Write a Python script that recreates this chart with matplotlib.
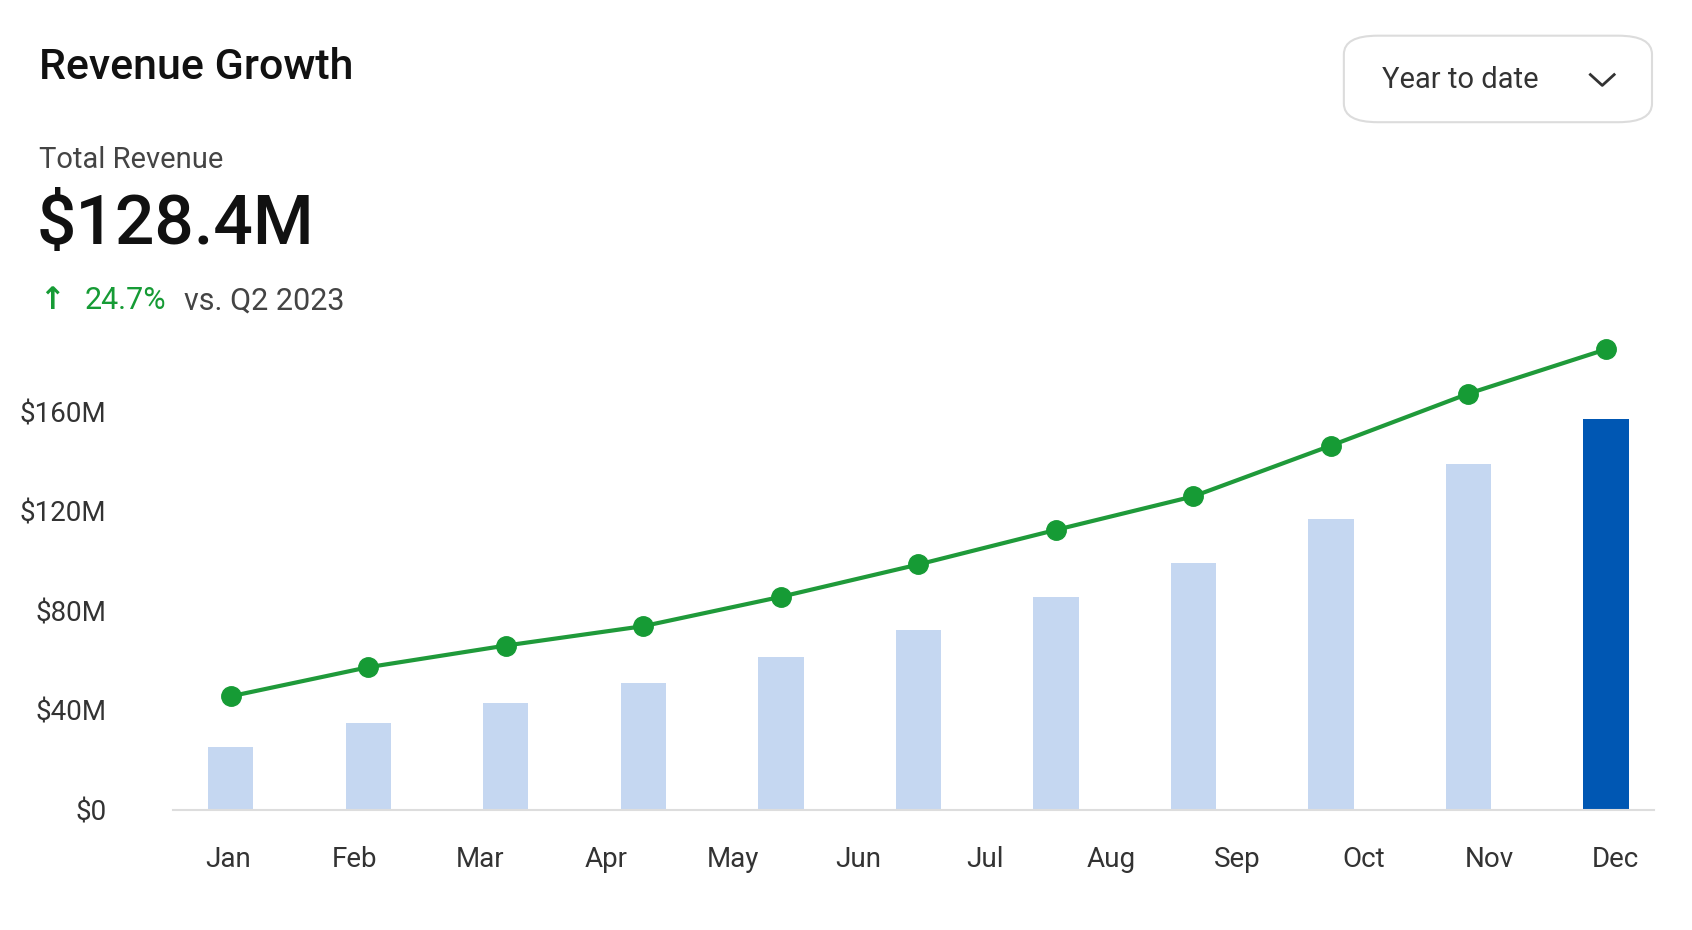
import numpy as np
import matplotlib.pyplot as plt
from matplotlib.patches import FancyBboxPatch

# data (millions)
months = ["Jan", "Feb", "Mar", "Apr", "May", "Jun", "Jul", "Aug", "Sep", "Oct", "Nov", "Dec"]
bar_values = [25.2, 34.8, 43.0, 50.9, 61.3, 72.2, 85.7, 99.1, 117.0, 139.0, 157.0]
line_values = [45.7, 57.4, 66.1, 73.9, 85.7, 98.7, 112.6, 126.1, 146.5, 167.4, 185.2]
y_ticks = [0, 40, 80, 120, 160]
y_labels = ["$0", "$40M", "$80M", "$120M", "$160M"]

plt.rcParams['font.family'] = ['Roboto', 'DejaVu Sans']

W, H = 1565, 860
def fx(x): return x / W
def fy(y): return 1 - y / H

fig = plt.figure(figsize=(16.92, 9.3), dpi=100)
fig.patch.set_facecolor("white")

ax = fig.add_axes([fx(160), fy(749), fx(1530) - fx(160), fy(312) - fy(749)])
x = np.arange(len(bar_values))
colors = ["#c5d7f1"] * (len(bar_values) - 1) + ["#0057b3"]
ax.bar(x, bar_values, width=0.33, color=colors, zorder=2)
ax.plot(x, line_values, color="#1f9a3a", lw=3, marker="o", ms=14,
        markerfacecolor="#169b35", markeredgecolor="#169b35", zorder=3)
ax.set_xlim(-0.42, 10.35)
ax.set_ylim(0, 190)
ax.set_xticks(np.linspace(-0.02, 10.07, len(months)))
ax.set_xticklabels(months, fontsize=20, color="#333333")
ax.set_yticks(y_ticks)
ax.set_yticklabels(y_labels, fontsize=20, color="#333333")
ax.tick_params(length=0)
ax.tick_params(axis="y", pad=48)
ax.tick_params(axis="x", pad=26)
for s in ["top", "right", "left"]:
    ax.spines[s].set_visible(False)
ax.spines["bottom"].set_color("#dddddd")
ax.spines["bottom"].set_linewidth(1.5)
ax.set_facecolor("none")

# header texts
fig.text(fx(36), fy(62), "Revenue Growth", fontsize=31, fontweight="medium",
         color="#111111", va="center")
fig.text(fx(36), fy(148), "Total Revenue", fontsize=21, color="#444444", va="center")
fig.text(fx(34), fy(208), "$128.4M", fontsize=50, fontweight="medium",
         color="#111111", va="center")
fig.text(fx(36), fy(278), "↑", fontsize=22, color="#169b35", va="center",
         fontweight="bold", family=["DejaVu Sans"])
fig.text(fx(78), fy(278), "24.7%", fontsize=22, color="#169b35", va="center")
fig.text(fx(170), fy(278), "vs. Q2 2023", fontsize=22, color="#444444", va="center")

# dropdown
box = FancyBboxPatch((fx(1243), fy(113)), fx(1528) - fx(1243), fy(33) - fy(113),
                     boxstyle="round,pad=0,rounding_size=0.02",
                     transform=fig.transFigure, facecolor="white",
                     edgecolor="#dcdcdc", lw=1.5)
fig.patches.append(box)
fig.text(fx(1278), fy(74), "Year to date", fontsize=21, color="#333333", va="center")
fig.lines.append(plt.Line2D([fx(1471), fx(1482), fx(1493)], [fy(69), fy(79), fy(69)],
                            transform=fig.transFigure, color="#333333", lw=2))

fig.savefig("out.png", dpi=100, facecolor="white")
